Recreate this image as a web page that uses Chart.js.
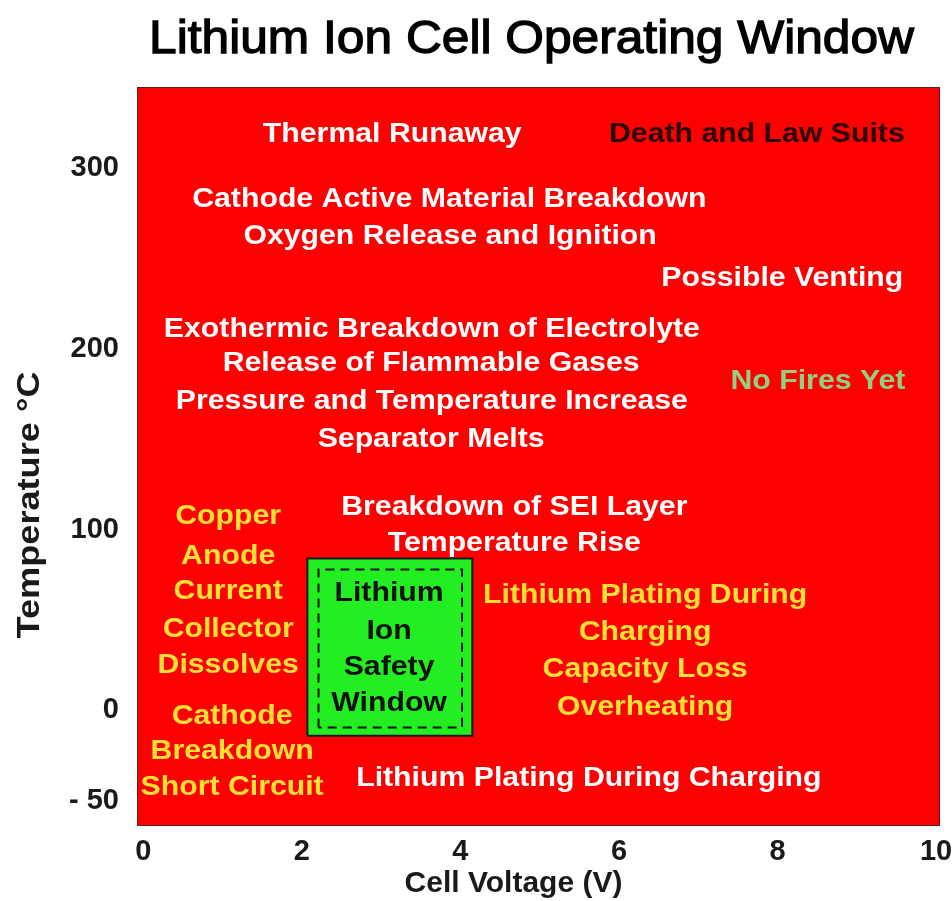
<!doctype html>
<html lang="en">
  <head>
    <meta charset="UTF-8" />
    <title>Lithium Ion Cell Operating Window</title>
    <style>
      body {
        margin: 0;
        background: white;
      }
      #chart {
        display: block;
      }
    </style>
  </head>
  <body>
    <canvas id="chart" width="952" height="901"></canvas>

    <script src="https://cdn.jsdelivr.net/npm/chart.js"></script>
    <script>
      var chartTitle = "Lithium Ion Cell Operating Window";
      var xTitle = "Cell Voltage (V)";
      var yTitle = "Temperature °C";

      // axis ticks
      var voltageTicks = [0, 2, 4, 6, 8, 10];
      var tempTicks = [-50, 0, 100, 200, 300];

      // safe operating window (V, degC)
      var safeVolts = [2.07, 4.15];
      var safeTemps = [-14, 84];
      var dashVolts = [2.21, 4.02];
      var dashTemps = [-9.5, 78];

      // text notes placed on the chart
      var noteText = [
        "Thermal Runaway", "Death and Law Suits",
        "Cathode Active Material Breakdown", "Oxygen Release and Ignition",
        "Possible Venting",
        "Exothermic Breakdown of Electrolyte", "Release of Flammable Gases",
        "Pressure and Temperature Increase", "Separator Melts",
        "No Fires Yet",
        "Breakdown of SEI Layer", "Temperature Rise",
        "Copper", "Anode", "Current", "Collector", "Dissolves",
        "Cathode", "Breakdown", "Short Circuit",
        "Lithium Plating During", "Charging", "Capacity Loss", "Overheating",
        "Lithium Plating During Charging",
        "Lithium", "Ion", "Safety", "Window"
      ];
      var noteVolts = [
        3.14, 7.74,
        3.86, 3.87,
        8.06,
        3.64, 3.63, 3.64, 3.63,
        8.51,
        4.68, 4.68,
        1.07, 1.07, 1.07, 1.07, 1.07,
        1.12, 1.12, 1.12,
        6.33, 6.33, 6.33, 6.33,
        5.62,
        3.10, 3.10, 3.10, 3.10
      ];
      var noteTemps = [
        318.5, 318.5,
        282.5, 262,
        239,
        211, 192, 171, 150,
        182,
        112, 92.5,
        107, 85, 66, 45, 25,
        -3.4, -22.8, -42.7,
        63.6, 43.1, 22.6, 1.6,
        -37.5,
        64.7, 43.6, 23.7, 3.8
      ];
      var noteColors = [
        "white", "#2a0000",
        "white", "white",
        "white",
        "white", "white", "white", "white",
        "#92d080",
        "white", "white",
        "#ffe033", "#ffe033", "#ffe033", "#ffe033", "#ffe033",
        "#ffe033", "#ffe033", "#ffe033",
        "#ffe033", "#ffe033", "#ffe033", "#ffe033",
        "white",
        "#111", "#111", "#111", "#111"
      ];

      var FONT = '"Liberation Sans", Arial, sans-serif';

      function boxPoints(xs, ys) {
        return [
          { x: xs[0], y: ys[0] },
          { x: xs[0], y: ys[1] },
          { x: xs[1], y: ys[1] },
          { x: xs[1], y: ys[0] },
          { x: xs[0], y: ys[0] }
        ];
      }

      var notePoints = noteText.map(function (t, i) {
        return { x: noteVolts[i], y: noteTemps[i] };
      });

      // red background over the plot area
      var redArea = {
        id: "redArea",
        beforeDatasetsDraw: function (chart) {
          var a = chart.chartArea;
          var ctx = chart.ctx;
          ctx.save();
          ctx.fillStyle = "#ff0000";
          ctx.fillRect(a.left, a.top, a.right - a.left, a.bottom - a.top);
          ctx.strokeStyle = "#5a2020";
          ctx.lineWidth = 1;
          ctx.strokeRect(a.left + 0.5, a.top + 0.5, a.right - a.left - 1, a.bottom - a.top - 1);
          ctx.restore();
        }
      };

      // stretched text helper
      function drawText(ctx, text, x, y, font, color, sx, rot, stroke) {
        ctx.save();
        ctx.translate(x, y);
        if (rot) ctx.rotate(rot);
        ctx.scale(sx, 1);
        ctx.font = font;
        ctx.fillStyle = color;
        ctx.textAlign = "center";
        ctx.textBaseline = "middle";
        ctx.fillText(text, 0, 0);
        if (stroke) {
          ctx.strokeStyle = color;
          ctx.lineWidth = stroke;
          ctx.strokeText(text, 0, 0);
        }
        ctx.restore();
      }

      // chart title and axis titles
      var titles = {
        id: "titles",
        afterDraw: function (chart) {
          var ctx = chart.ctx;
          var a = chart.chartArea;
          drawText(ctx, chartTitle, a.left + (a.right - a.left) / 2 - 7, 40,
            "46px " + FONT, "#000", 1.08, 0, 1.3);
          drawText(ctx, xTitle, a.left + (a.right - a.left) / 2 - 25, 884,
            "bold 30px " + FONT, "#1a1a1a", 1);
          drawText(ctx, yTitle, 30, 505,
            "bold 32px " + FONT, "#1a1a1a", 1.13, -Math.PI / 2);
        }
      };

      // draws the note text at each point of the notes dataset
      var noteLabels = {
        id: "noteLabels",
        afterDatasetsDraw: function (chart) {
          var meta = chart.getDatasetMeta(2);
          var ctx = chart.ctx;
          meta.data.forEach(function (el, i) {
            drawText(ctx, noteText[i], el.x, el.y, "bold 27px " + FONT, noteColors[i], 1.12);
          });
        }
      };

      var ctx = document.getElementById("chart").getContext("2d");
      var chart = new Chart(ctx, {
        type: "scatter",
        data: {
          datasets: [
            {
              data: boxPoints(safeVolts, safeTemps),
              order: 3,
              showLine: true,
              fill: "shape",
              backgroundColor: "#22ee22",
              borderColor: "#1a1a1a",
              borderWidth: 2,
              pointRadius: 0,
              tension: 0
            },
            {
              data: boxPoints(dashVolts, dashTemps),
              order: 2,
              showLine: true,
              fill: false,
              borderColor: "#111",
              borderWidth: 2,
              borderDash: [9, 6],
              pointRadius: 0,
              tension: 0
            },
            {
              data: notePoints,
              order: 1,
              pointRadius: 0,
              showLine: false
            }
          ]
        },
        options: {
          responsive: false,
          animation: false,
          layout: { padding: { left: 0, right: 12, top: 87, bottom: 0 } },
          plugins: {
            legend: { display: false },
            tooltip: { enabled: false },
            title: { display: false }
          },
          scales: {
            x: {
              type: "linear",
              min: -0.08,
              max: 10.05,
              afterBuildTicks: function (s) {
                s.ticks = voltageTicks.map(function (v) { return { value: v }; });
              },
              afterFit: function (s) {
                s.height = 75;
                s.paddingLeft = 0;
                s.paddingRight = 0;
              },
              grid: { display: false, drawTicks: false },
              border: { display: false },
              ticks: {
                color: "#1a1a1a",
                padding: 9,
                maxRotation: 0,
                font: { family: FONT, size: 29, weight: "bold" }
              }
            },
            y: {
              type: "linear",
              min: -64,
              max: 345,
              afterBuildTicks: function (s) {
                s.ticks = tempTicks.map(function (v) { return { value: v }; });
              },
              afterFit: function (s) {
                s.width = 137;
                s.paddingTop = 0;
                s.paddingBottom = 0;
              },
              grid: { display: false, drawTicks: false },
              border: { display: false },
              ticks: {
                color: "#1a1a1a",
                padding: 18,
                font: { family: FONT, size: 29, weight: "bold" },
                callback: function (v) { return v < 0 ? "- " + Math.abs(v) : v; }
              }
            }
          }
        },
        plugins: [redArea, noteLabels, titles]
      });
    </script>
  </body>
</html>
